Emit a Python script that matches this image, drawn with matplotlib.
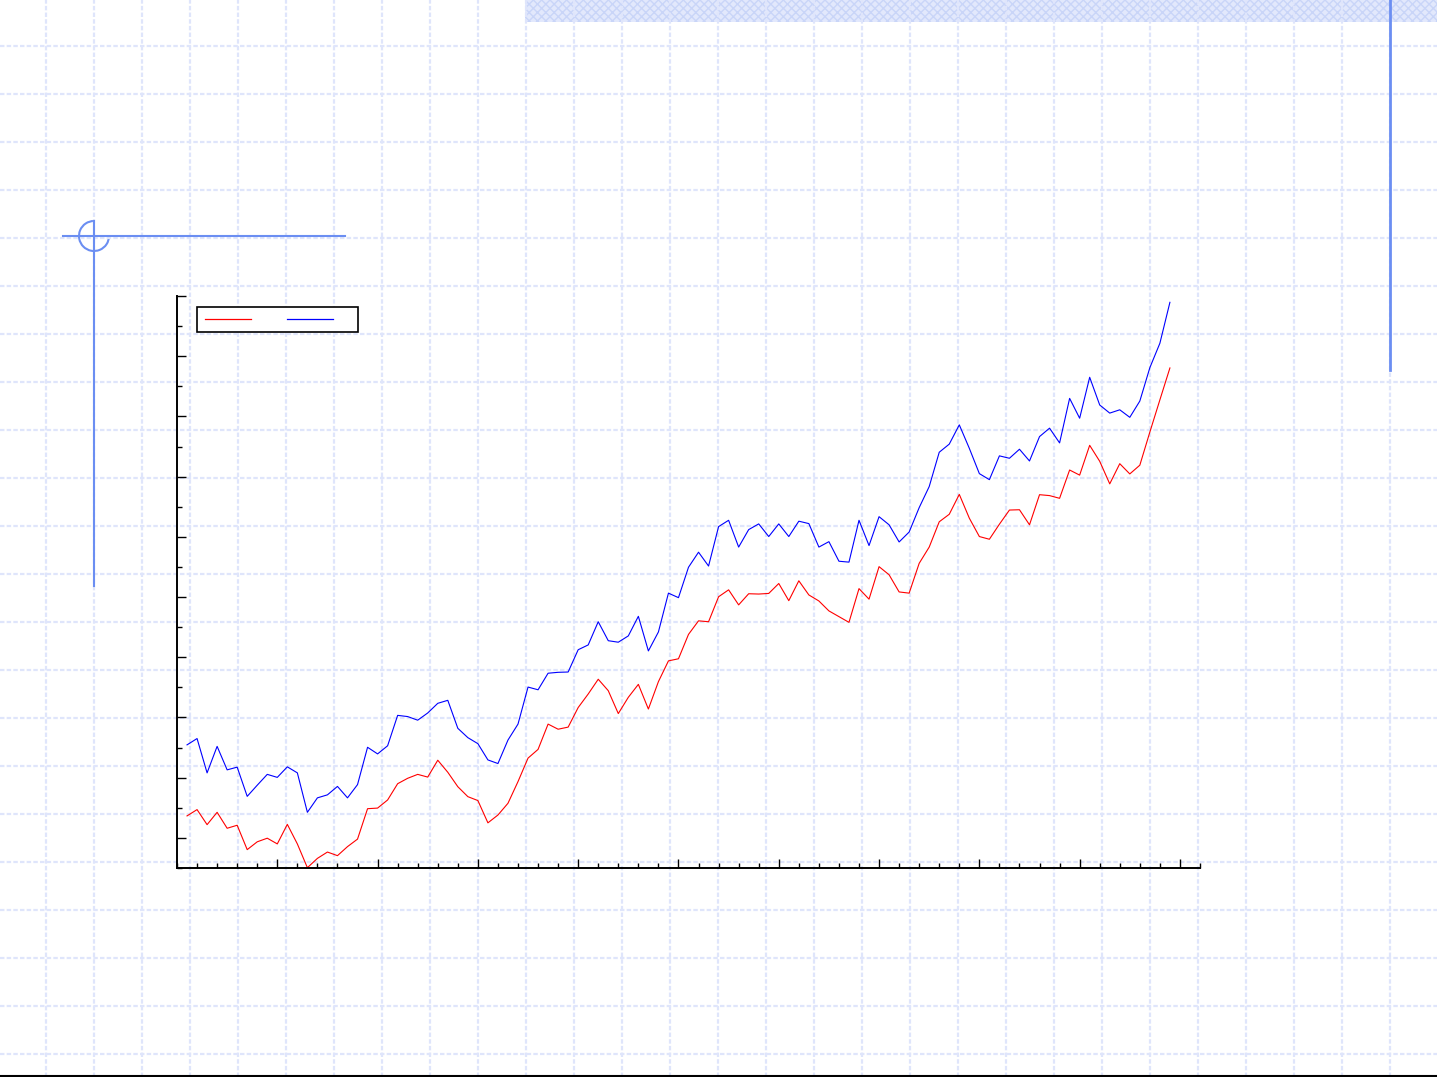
import matplotlib
matplotlib.use('Agg')
import matplotlib.pyplot as plt
from matplotlib.lines import Line2D
from matplotlib.patches import Rectangle, Arc
import numpy as np

# data (no axis labels in the source, arbitrary units)
periods = np.arange(1, 100)
series_a = [17.3, 19.4, 14.4, 18.5, 13.2, 14.2, 6.1, 8.7, 9.9, 8.0,
            14.5, 8.0, 0.1, 3.2, 5.3, 4.1, 7.1, 9.6, 19.7, 19.9,
            22.6, 28.0, 29.8, 31.1, 30.2, 35.8, 31.8, 27.0, 23.7, 22.4,
            15.0, 17.6, 21.5, 28.7, 36.5, 39.4, 47.8, 46.1, 46.8, 53.3,
            57.8, 62.7, 58.9, 51.3, 56.7, 61.0, 52.8, 61.9, 68.8, 69.5,
            77.6, 82.1, 81.8, 90.1, 92.4, 87.4, 91.1, 91.0, 91.2, 94.5,
            88.8, 95.4, 90.7, 88.7, 85.4, 83.5, 81.6, 92.8, 89.3, 100.1,
            97.4, 91.7, 91.3, 101.2, 106.6, 115.0, 117.5, 124.1, 116.2, 110.1,
            109.2, 114.2, 118.9, 119.0, 114.0, 124.0, 123.7, 122.8, 132.2, 130.5,
            140.4, 135.1, 127.6, 134.3, 130.9, 133.8, 144.8, 155.5, 166.1]
series_b = [40.9, 43.0, 31.6, 40.4, 32.6, 33.5, 23.8, 27.5, 31.1, 30.1,
            33.6, 31.6, 18.5, 23.3, 24.3, 27.1, 23.3, 27.7, 40.1, 37.9,
            40.6, 50.7, 50.3, 49.1, 51.5, 54.7, 55.7, 46.4, 43.3, 41.3,
            35.9, 34.7, 42.5, 47.8, 60.1, 59.2, 64.7, 65.0, 65.1, 72.5,
            74.1, 81.8, 75.5, 75.0, 77.1, 83.6, 72.1, 78.4, 91.3, 89.8,
            99.9, 104.9, 100.3, 113.4, 115.5, 106.6, 112.4, 114.3, 110.1, 114.3,
            110.1, 115.2, 114.4, 106.6, 108.4, 101.9, 101.6, 115.5, 107.1, 116.7,
            114.0, 108.3, 111.6, 119.7, 126.7, 138.1, 140.8, 147.2, 139.4, 131.0,
            129.0, 136.9, 136.1, 139.1, 135.2, 143.3, 146.1, 141.2, 156.0, 149.4,
            163.0, 153.8, 151.1, 152.2, 149.7, 155.1, 166.2, 174.3, 187.9]
labels = [' ', ' ']
colors = ['#ff0000', '#0000ff']

W, H = 1437, 1077
fig = plt.figure(figsize=(W / 100, H / 100), dpi=100)

# slide background: dashed grid paper + decorations, in pixel coordinates
bg = fig.add_axes([0, 0, 1, 1], zorder=0)
bg.set_xlim(0, W)
bg.set_ylim(H, 0)
bg.axis('off')
grid_col = '#dfe5fb'
bg.add_patch(Rectangle((525, 0), W - 525, 22, facecolor='#e2e8fc',
                       edgecolor='#c9d5f8', hatch='xxxx', linewidth=0))
for g in np.arange(45.7, W, 48):
    bg.axvline(g, color=grid_col, lw=1.6, ls=(0, (2, 1)))
for g in np.arange(45.7, H, 48):
    bg.axhline(g, color=grid_col, lw=1.6, ls=(0, (2, 1)))

deco = '#6b8ef2'
bg.plot([63, 345], [236, 236], color=deco, lw=1.5)
bg.plot([94, 94], [221, 586], color=deco, lw=1.5)
bg.add_patch(Arc((94, 236), 30, 30, theta1=0, theta2=270, color=deco, lw=1.5))
bg.plot([1390, 1390], [0, 370], color=deco, lw=2)
bg.plot([0, W], [1076, 1076], color='black', lw=1.5)

# chart
ax = fig.add_axes([177 / W, 1 - 868 / H, 1023 / W, 572 / H], zorder=1)
ax.patch.set_alpha(0)
x = periods * 0.5
ax.plot(x, series_a, color=colors[0], lw=0.8)
ax.plot(x, series_b, color=colors[1], lw=0.8)

ax.set_xlim(0, 51)
ax.set_ylim(0, 190)
ax.set_xticks(np.arange(5, 51, 5))
ax.set_xticks(np.arange(0, 52, 1), minor=True)
ax.set_yticks(np.arange(10, 191, 20))
ax.set_yticks(np.arange(0, 191, 10), minor=True)
ax.tick_params(which='both', direction='in', labelbottom=False, labelleft=False,
               width=1, color='black')
ax.tick_params(which='major', length=6.5)
ax.tick_params(which='minor', length=3.4)
for s in ['top', 'right']:
    ax.spines[s].set_visible(False)
for s in ['left', 'bottom']:
    ax.spines[s].set_linewidth(1.4)
    ax.spines[s].set_color('black')

handles = [Line2D([], [], color=c, lw=0.9) for c in colors]
leg = ax.legend(handles, labels, ncol=2, loc='upper left',
                bbox_to_anchor=(197.3 / W, 1 - 307.3 / H),
                bbox_transform=fig.transFigure, borderaxespad=0,
                fontsize=6, handlelength=5.5, handletextpad=1.8,
                columnspacing=2.2, borderpad=0.95, fancybox=False,
                framealpha=1, edgecolor='black')
leg.get_frame().set_linewidth(1.2)

fig.savefig('out.png', dpi=100)
